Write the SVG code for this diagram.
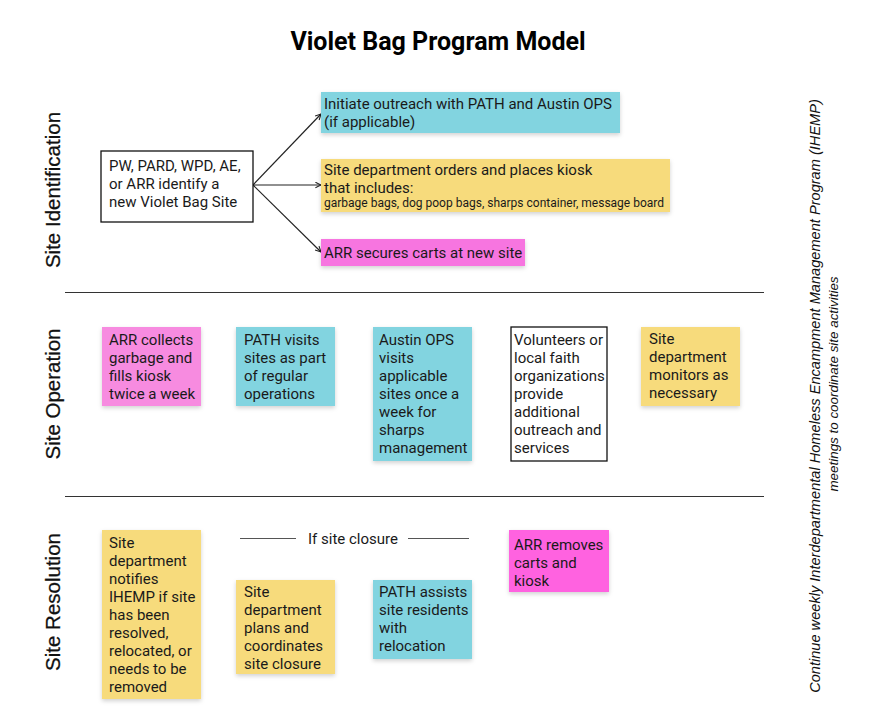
<svg xmlns="http://www.w3.org/2000/svg" width="881" height="727" viewBox="0 0 881 727">
<style>
.t{font-family:Roboto,"Liberation Sans",sans-serif;font-size:15px;fill:#1a1a1a}
.s{font-size:12px}
.lab{font-family:"Liberation Sans",Arial,sans-serif;font-size:20.5px;fill:#111;text-anchor:middle;stroke:#111;stroke-width:0.25}
.side{font-family:"Liberation Sans",Arial,sans-serif;font-style:italic;fill:#111;text-anchor:middle}
.cy{fill:#82d4e0}
.ye{fill:#f7db7c}
.pk{fill:#f78be0}
.mg{fill:#f774e0}
.mg2{fill:#ff62e0}
.wb{fill:#fff;stroke:#111;stroke-width:1.3}
.sep{stroke:#333;stroke-width:1}
.con{stroke:#222;stroke-width:1.2;fill:none;marker-end:url(#ah)}
</style>
<defs>
<marker id="ah" viewBox="0 0 10 10" refX="9" refY="5" markerWidth="7" markerHeight="7" orient="auto" markerUnits="userSpaceOnUse">
<path d="M1,1 L9,5 L1,9" fill="none" stroke="#222" stroke-width="1.5"/>
</marker>
<filter id="sh" x="-10%" y="-10%" width="130%" height="140%">
<feDropShadow dx="0" dy="2" stdDeviation="2" flood-color="#000" flood-opacity="0.18"/>
</filter>
</defs>
<rect width="881" height="727" fill="#fff"/>
<text x="438" y="50" text-anchor="middle" style="font-family:Roboto,'Liberation Sans',sans-serif;font-weight:bold;font-size:25px;fill:#000">Violet Bag Program Model</text>

<g id="labels">
<text class="lab" transform="translate(60,190) rotate(-90)">Site Identification</text>
<text class="lab" transform="translate(60,394) rotate(-90)">Site Operation</text>
<text class="lab" transform="translate(60,602) rotate(-90)">Site Resolution</text>
<text class="side" style="font-size:14.6px" transform="translate(820,396) rotate(-90)">Continue weekly Interdepartmental Homeless Encampment Management Program (IHEMP)</text>
<text class="side" style="font-size:13.4px" transform="translate(838,384) rotate(-90)">meetings to coordinate site activities</text>
</g>

<g id="separators">
<line class="sep" x1="65" y1="292.5" x2="764" y2="292.5"/>
<line class="sep" x1="65" y1="496.5" x2="764" y2="496.5"/>
</g>

<g id="connectors">
<line class="con" x1="253" y1="185" x2="321" y2="114"/>
<line class="con" x1="253" y1="185" x2="321" y2="185"/>
<line class="con" x1="253" y1="185" x2="321" y2="252"/>
</g>

<g id="n-identify">
<rect class="wb" x="101" y="151" width="152" height="71"/>
<text class="t" x="109" y="171">PW, PARD, WPD, AE,</text>
<text class="t" x="109" y="189">or ARR identify a</text>
<text class="t" x="109" y="207">new Violet Bag Site</text>
</g>
<g id="n-outreach">
<rect class="cy" filter="url(#sh)" x="321" y="92" width="299" height="41"/>
<text class="t" x="324" y="109">Initiate outreach with PATH and Austin OPS</text>
<text class="t" x="324" y="127">(if applicable)</text>
</g>
<g id="n-kiosk">
<rect class="ye" filter="url(#sh)" x="321" y="159" width="349" height="53"/>
<text class="t" x="324" y="175">Site department orders and places kiosk</text>
<text class="t" x="324" y="193">that includes:</text>
<text class="t s" x="324" y="207">garbage bags, dog poop bags, sharps container, message board</text>
</g>
<g id="n-carts">
<rect class="mg" filter="url(#sh)" x="321" y="239" width="204" height="27"/>
<text class="t" x="324" y="258">ARR secures carts at new site</text>
</g>

<g id="n-arr-collects">
<rect class="pk" filter="url(#sh)" x="102" y="327" width="99" height="79"/>
<text class="t" x="109" y="345">ARR collects</text>
<text class="t" x="109" y="363">garbage and</text>
<text class="t" x="109" y="381">fills kiosk</text>
<text class="t" x="109" y="399">twice a week</text>
</g>
<g id="n-path-visits">
<rect class="cy" filter="url(#sh)" x="236" y="327" width="99" height="79"/>
<text class="t" x="244" y="345">PATH visits</text>
<text class="t" x="244" y="363">sites as part</text>
<text class="t" x="244" y="381">of regular</text>
<text class="t" x="244" y="399">operations</text>
</g>
<g id="n-austin-ops">
<rect class="cy" filter="url(#sh)" x="373" y="327" width="99" height="134"/>
<text class="t" x="379" y="345">Austin OPS</text>
<text class="t" x="379" y="363">visits</text>
<text class="t" x="379" y="381">applicable</text>
<text class="t" x="379" y="399">sites once a</text>
<text class="t" x="379" y="417">week for</text>
<text class="t" x="379" y="435">sharps</text>
<text class="t" x="379" y="453">management</text>
</g>
<g id="n-volunteers">
<rect class="wb" x="511" y="327" width="96" height="134"/>
<text class="t" x="514" y="345">Volunteers or</text>
<text class="t" x="514" y="363">local faith</text>
<text class="t" x="514" y="381">organizations</text>
<text class="t" x="514" y="399">provide</text>
<text class="t" x="514" y="417">additional</text>
<text class="t" x="514" y="435">outreach and</text>
<text class="t" x="514" y="453">services</text>
</g>
<g id="n-monitors">
<rect class="ye" filter="url(#sh)" x="641" y="327" width="99" height="79"/>
<text class="t" x="649" y="344">Site</text>
<text class="t" x="649" y="362">department</text>
<text class="t" x="649" y="380">monitors as</text>
<text class="t" x="649" y="398">necessary</text>
</g>

<g id="n-notifies">
<rect class="ye" filter="url(#sh)" x="102" y="530" width="99" height="169"/>
<text class="t" x="109" y="548">Site</text>
<text class="t" x="109" y="566">department</text>
<text class="t" x="109" y="584">notifies</text>
<text class="t" x="109" y="602">IHEMP if site</text>
<text class="t" x="109" y="620">has been</text>
<text class="t" x="109" y="638">resolved,</text>
<text class="t" x="109" y="656">relocated, or</text>
<text class="t" x="109" y="674">needs to be</text>
<text class="t" x="109" y="692">removed</text>
</g>
<g id="closure-label">
<line x1="240" y1="538.5" x2="296" y2="538.5" stroke="#555" stroke-width="1"/>
<text class="t" x="308" y="544">If site closure</text>
<line x1="408" y1="538.5" x2="469" y2="538.5" stroke="#555" stroke-width="1"/>
</g>
<g id="n-plans">
<rect class="ye" filter="url(#sh)" x="236" y="580" width="99" height="94"/>
<text class="t" x="244" y="597">Site</text>
<text class="t" x="244" y="615">department</text>
<text class="t" x="244" y="633">plans and</text>
<text class="t" x="244" y="651">coordinates</text>
<text class="t" x="244" y="669">site closure</text>
</g>
<g id="n-path-assists">
<rect class="cy" filter="url(#sh)" x="373" y="580" width="99" height="79"/>
<text class="t" x="379" y="597">PATH assists</text>
<text class="t" x="379" y="615">site residents</text>
<text class="t" x="379" y="633">with</text>
<text class="t" x="379" y="651">relocation</text>
</g>
<g id="n-arr-removes">
<rect class="mg2" filter="url(#sh)" x="509" y="530" width="100" height="62"/>
<text class="t" x="514" y="550">ARR removes</text>
<text class="t" x="514" y="568">carts and</text>
<text class="t" x="514" y="586">kiosk</text>
</g>
</svg>
